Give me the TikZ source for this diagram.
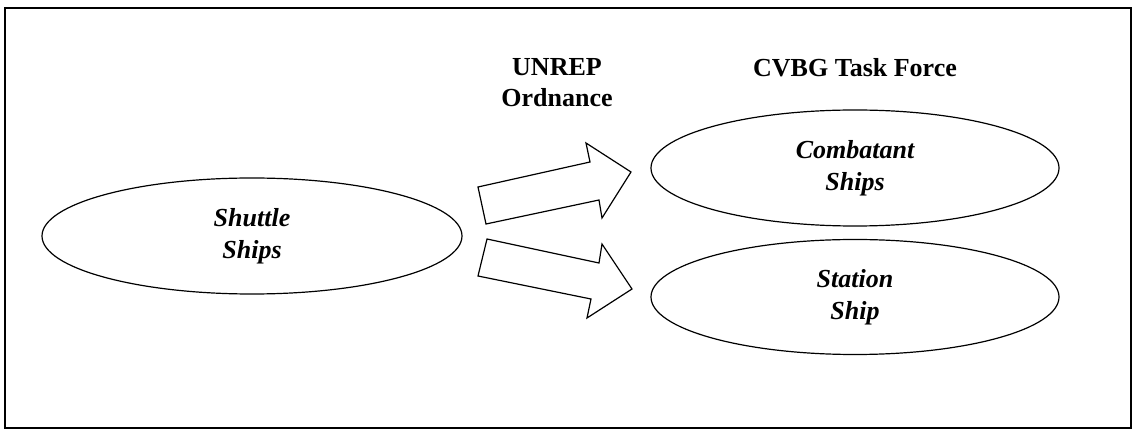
\documentclass[tikz,border=0pt]{standalone}
\usepackage{fontspec}
\setmainfont{Liberation Serif}
\usetikzlibrary{shapes.geometric}
\begin{document}
\begin{tikzpicture}[x=1pt,y=-1pt,
  oval/.style={draw,line width=1.2pt,ellipse,inner sep=0pt,font=\fontsize{26}{32}\selectfont\bfseries\itshape,align=center},
  lbl/.style={font=\fontsize{26}{31}\selectfont\bfseries,align=center,inner sep=0pt},
  bigarrow/.style={draw,line width=1.2pt,line join=miter}]
\useasboundingbox (0,0) rectangle (1136,430);
\draw[line width=1.5pt] (5,8) rectangle (1131,428);
\node[oval,minimum width=420pt,minimum height=116pt] (shuttle) at (252,236) {Shuttle\\Ships};
\node[oval,minimum width=408pt,minimum height=116pt] (combat) at (855,168) {Combatant\\Ships};
\node[oval,minimum width=408pt,minimum height=115pt] (station) at (855,297) {Station\\Ship};
\node[lbl] (unrep) at (557,83) {UNREP\\Ordnance};
\node[lbl] (cvbg) at (855,68) {CVBG Task Force};
\draw[bigarrow] (486,224) -- (478,187) -- (590,162) -- (586,143) -- (631,172) -- (602,218) -- (599,200) -- cycle;
\draw[bigarrow] (487,239) -- (478,276) -- (591,299) -- (587,318) -- (632,289) -- (602,244) -- (599,263) -- cycle;
\end{tikzpicture}
\end{document}
